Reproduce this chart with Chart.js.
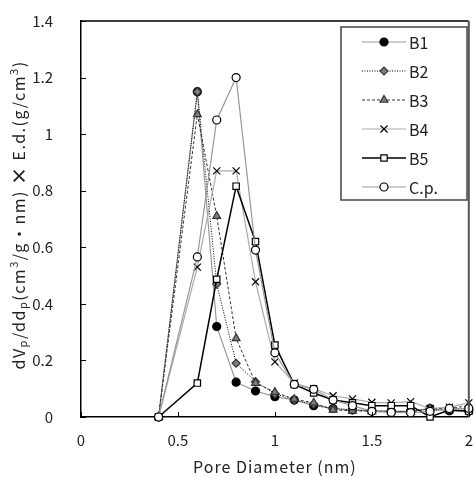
<!DOCTYPE html>
<html>
<head>
<meta charset="utf-8">
<script src="https://cdn.jsdelivr.net/npm/chart.js@4.4.1/dist/chart.umd.min.js"></script>
<style>
  html, body { margin: 0; padding: 0; background: #fff; }
  #wrap { width: 475px; height: 478px; }
</style>
</head>
<body>
<div id="wrap"><canvas id="grafico" width="475" height="478"></canvas></div>
<script>
// pore diameter (nm)
var diametros = [0.4, 0.6, 0.7, 0.8, 0.9, 1.0, 1.1, 1.2, 1.3, 1.4, 1.5, 1.6, 1.7, 1.8, 1.9, 2.0];

var serieB1 = [0, 1.15, 0.32, 0.123, 0.092, 0.072, 0.060, 0.040, 0.030, 0.025, 0.022, 0.020, 0.020, 0.030, 0.022, 0.020];
var serieB2 = [0, 1.15, 0.47, 0.19, 0.125, 0.082, 0.060, 0.045, 0.030, 0.025, 0.022, 0.020, 0.020, 0.028, 0.025, 0.025];
var serieB3 = [0, 1.07, 0.71, 0.278, 0.12, 0.088, 0.063, 0.050, 0.025, 0.022, 0.020, 0.020, 0.018, 0.030, 0.030, 0.040];
var serieB4 = [0, 0.53, 0.87, 0.87, 0.478, 0.195, 0.120, 0.100, 0.075, 0.064, 0.052, 0.050, 0.054, 0.030, 0.035, 0.050];
var serieB5 = [0, 0.12, 0.487, 0.816, 0.62, 0.254, 0.115, 0.085, 0.060, 0.050, 0.040, 0.040, 0.040, 0.000, 0.025, 0.020];
var serieCp = [0, 0.566, 1.05, 1.20, 0.59, 0.227, 0.115, 0.098, 0.060, 0.040, 0.020, 0.016, 0.015, 0.020, 0.030, 0.030];

var nombres = ['B1', 'B2', 'B3', 'B4', 'B5', 'C.p.'];
var ticksX = [0, 0.5, 1, 1.5, 2];
var ticksY = [0, 0.2, 0.4, 0.6, 0.8, 1, 1.2, 1.4];

var fuente = '"Noto Sans CJK JP", "Liberation Sans", sans-serif';

function puntos(valores) {
    return diametros.map(function(d, i) { return { x: d, y: valores[i] }; });
}

var estilos = [
    { datos: serieB1, linea: '#999999', dash: [], ancho: 1.2, punto: 'circle', radio: 4, relleno: '#000000', borde: '#000000' },
    { datos: serieB2, linea: '#000000', dash: [1, 1.5], ancho: 1, punto: 'rectRot', radio: 4, relleno: '#7f7f7f', borde: '#333333' },
    { datos: serieB3, linea: '#333333', dash: [3, 2], ancho: 1, punto: 'triangle', radio: 4.5, relleno: '#7f7f7f', borde: '#333333' },
    { datos: serieB4, linea: '#aaaaaa', dash: [], ancho: 1.2, punto: 'crossRot', radio: 5, relleno: '#000000', borde: '#000000' },
    { datos: serieB5, linea: '#000000', dash: [], ancho: 1.5, punto: 'rect', radio: 4.5, relleno: '#ffffff', borde: '#000000' },
    { datos: serieCp, linea: '#999999', dash: [], ancho: 1.2, punto: 'circle', radio: 4, relleno: '#ffffff', borde: '#000000' }
];

var datasets = estilos.map(function(e, i) {
    return {
        label: nombres[i],
        data: puntos(e.datos),
        borderColor: e.linea,
        borderDash: e.dash,
        borderWidth: e.ancho,
        pointStyle: e.punto,
        pointRadius: e.radio,
        pointBackgroundColor: e.relleno,
        pointBorderColor: e.borde,
        pointBorderWidth: 1.2,
        tension: 0,
        clip: false,
        order: nombres.length - i
    };
});

// inward ticks, frame, axis titles and legend
var extras = {
    id: 'extras',
    afterDraw: function(chart) {
        var ctx = chart.ctx;
        var a = chart.chartArea;
        var sx = chart.scales.x, sy = chart.scales.y;
        ctx.save();

        // frame top / right
        ctx.lineWidth = 1.5;
        ctx.strokeStyle = '#000';
        ctx.beginPath();
        ctx.moveTo(a.left, a.top);
        ctx.lineTo(a.right, a.top);
        ctx.stroke();
        ctx.strokeStyle = '#555';
        ctx.lineWidth = 2;
        ctx.beginPath();
        ctx.moveTo(a.right, a.top);
        ctx.lineTo(a.right, a.bottom);
        ctx.stroke();

        // ticks
        ctx.strokeStyle = '#000';
        ctx.lineWidth = 1;
        ticksX.forEach(function(t) {
            var px = Math.round(sx.getPixelForValue(t)) + 0.5;
            ctx.beginPath();
            ctx.moveTo(px, a.bottom);
            ctx.lineTo(px, a.bottom - 5);
            ctx.stroke();
        });
        ticksY.forEach(function(t) {
            var py = Math.round(sy.getPixelForValue(t)) + 0.5;
            ctx.beginPath();
            ctx.moveTo(a.left, py);
            ctx.lineTo(a.left + 5, py);
            ctx.stroke();
        });

        // x title
        ctx.fillStyle = '#222';
        ctx.font = '16px ' + fuente;
        ctx.letterSpacing = '1px';
        ctx.textAlign = 'center';
        ctx.textBaseline = 'middle';
        ctx.fillText('Pore Diameter (nm)', (a.left + a.right) / 2, 467);

        // y title with sub/superscripts
        var trozos = [
            { t: 'dV' }, { t: 'p', sub: true }, { t: '/dd' }, { t: 'p', sub: true },
            { t: '(cm' }, { t: '3', sup: true }, { t: '/g・nm) ' }, { t: '×', bold: true },
            { t: ' E.d.(g/cm' }, { t: '3', sup: true }, { t: ')' }
        ];
        function fontDe(p) {
            if (p.sub || p.sup) return '11px ' + fuente;
            if (p.bold) return 'bold 18px ' + fuente;
            return '16px ' + fuente;
        }
        ctx.letterSpacing = '1.5px';
        var total = 0;
        trozos.forEach(function(p) { ctx.font = fontDe(p); p.w = ctx.measureText(p.t).width; total += p.w; });
        ctx.translate(19, 215);
        ctx.rotate(-Math.PI / 2);
        ctx.textAlign = 'left';
        var cx = -total / 2;
        trozos.forEach(function(p) {
            ctx.font = fontDe(p);
            var dy = p.sub ? 4 : (p.sup ? -5 : 0);
            ctx.fillText(p.t, cx, dy);
            cx += p.w;
        });
        ctx.setTransform(1, 0, 0, 1, 0, 0);
        ctx.letterSpacing = '0px';

        // legend
        ctx.fillStyle = '#fff';
        ctx.fillRect(341, 27, 126, 173);
        ctx.strokeStyle = '#444';
        ctx.lineWidth = 1.5;
        ctx.strokeRect(341, 27, 126, 173);
        estilos.forEach(function(e, i) {
            var y = 42 + i * 29;
            ctx.strokeStyle = e.linea;
            ctx.lineWidth = e.ancho;
            ctx.setLineDash(e.dash);
            ctx.beginPath();
            ctx.moveTo(362, y);
            ctx.lineTo(406, y);
            ctx.stroke();
            ctx.setLineDash([]);
            ctx.fillStyle = e.relleno;
            ctx.strokeStyle = e.borde;
            ctx.lineWidth = 1.2;
            Chart.helpers.drawPoint(ctx, { pointStyle: e.punto, radius: e.radio, borderWidth: 1.2, rotation: 0 }, 384, y);
            ctx.fillStyle = '#222';
            ctx.font = '16px ' + fuente;
            ctx.textAlign = 'left';
            ctx.textBaseline = 'middle';
            ctx.fillText(nombres[i], 409, y + 1);
        });
        ctx.restore();
    }
};

var chart = new Chart(document.getElementById('grafico'), {
    type: 'line',
    data: { datasets: datasets },
    options: {
        responsive: false,
        animation: false,
        layout: { padding: { top: 21, right: 4, left: 0, bottom: 0 } },
        plugins: {
            legend: { display: false },
            tooltip: { enabled: false }
        },
        scales: {
            x: {
                type: 'linear',
                min: 0,
                max: 2,
                afterFit: function(scale) {
                    scale.height = 61;
                    scale.paddingLeft = 0;
                    scale.paddingRight = 0;
                },
                afterBuildTicks: function(scale) { scale.ticks = ticksX.map(function(v) { return { value: v }; }); },
                grid: { display: false },
                border: { display: true, color: '#000', width: 1.5 },
                ticks: {
                    padding: 6,
                    color: '#222',
                    font: { family: fuente, size: 15 },
                    maxRotation: 0,
                    callback: function(v) { return String(v); }
                }
            },
            y: {
                type: 'linear',
                min: 0,
                max: 1.4,
                afterFit: function(scale) {
                    scale.width = 81;
                    scale.paddingTop = 0;
                    scale.paddingBottom = 0;
                },
                afterBuildTicks: function(scale) { scale.ticks = ticksY.map(function(v) { return { value: v }; }); },
                grid: { display: false },
                border: { display: true, color: '#000', width: 1.5 },
                ticks: {
                    padding: 20,
                    color: '#222',
                    font: { family: fuente, size: 15 },
                    callback: function(v) { return String(Math.round(v * 10) / 10); }
                }
            }
        }
    },
    plugins: [extras]
});
</script>
</body>
</html>
